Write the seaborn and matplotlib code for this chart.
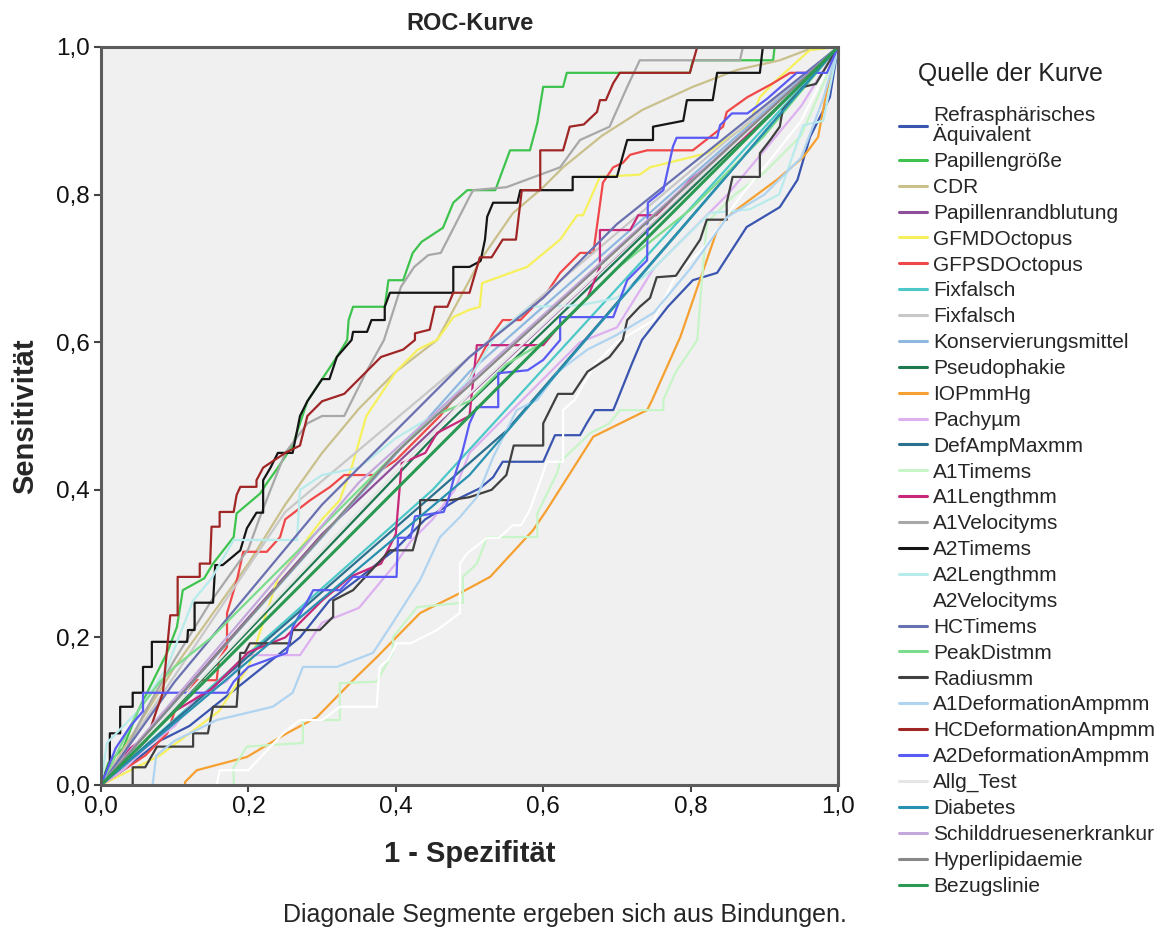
import matplotlib
matplotlib.use("Agg")
import matplotlib.pyplot as plt
from matplotlib.lines import Line2D
import pandas as pd
import seaborn as sns

# ROC curve vertices (1 - specificity, sensitivity) for each test variable
refraspharisch = [(0, 0), (0.03, 0.02), (0.08, 0.06), (0.12, 0.08), (0.17, 0.12), (0.22, 0.16),
                  (0.27, 0.2), (0.31, 0.25), (0.35, 0.28), (0.4, 0.32), (0.44, 0.36), (0.487, 0.389),
                  (0.514, 0.402), (0.532, 0.417), (0.545, 0.438), (0.6, 0.438), (0.616, 0.474),
                  (0.65, 0.474), (0.659, 0.49), (0.67, 0.508), (0.695, 0.508), (0.70, 0.52),
                  (0.72, 0.57), (0.734, 0.603), (0.769, 0.648), (0.803, 0.684), (0.836, 0.694),
                  (0.876, 0.756), (0.921, 0.783), (0.945, 0.82), (0.962, 0.878), (0.989, 0.932), (1, 1)]
papillengroesse = [(0, 0), (0.01, 0.03), (0.03, 0.05), (0.05, 0.1), (0.071, 0.142), (0.09, 0.18),
                   (0.103, 0.214), (0.111, 0.264), (0.14, 0.28), (0.152, 0.30), (0.18, 0.336),
                   (0.184, 0.368), (0.216, 0.395), (0.225, 0.409), (0.24, 0.43), (0.26, 0.46),
                   (0.28, 0.52), (0.30, 0.55), (0.32, 0.58), (0.334, 0.603), (0.336, 0.63),
                   (0.342, 0.648), (0.385, 0.648), (0.39, 0.684), (0.41, 0.684), (0.423, 0.721),
                   (0.435, 0.736), (0.464, 0.755), (0.478, 0.789), (0.497, 0.806), (0.535, 0.806),
                   (0.555, 0.86), (0.582, 0.86), (0.592, 0.897), (0.6, 0.946), (0.627, 0.946),
                   (0.632, 0.965), (0.799, 0.965), (0.803, 0.982), (0.912, 0.982), (0.914, 1.0), (1, 1)]
cdr = [(0, 0), (0.05, 0.08), (0.1, 0.16), (0.15, 0.23), (0.2, 0.3), (0.25, 0.38), (0.3, 0.45),
       (0.35, 0.51), (0.4, 0.56), (0.456, 0.603), (0.5, 0.684), (0.514, 0.71), (0.559, 0.775),
       (0.6, 0.81), (0.627, 0.837), (0.68, 0.88), (0.735, 0.915), (0.803, 0.946), (0.863, 0.969),
       (0.921, 0.982), (0.958, 0.996), (1, 1)]
papillenrandblutung = [(0, 0), (0.3, 0.34), (1, 1)]
gfmd_octopus = [(0, 0), (0.04, 0.02), (0.08, 0.04), (0.12, 0.07), (0.16, 0.1), (0.2, 0.16),
                (0.22, 0.22), (0.24, 0.28), (0.27, 0.32), (0.3, 0.36), (0.324, 0.386), (0.34, 0.43),
                (0.36, 0.5), (0.38, 0.53), (0.4, 0.56), (0.43, 0.59), (0.456, 0.603), (0.478, 0.634),
                (0.5, 0.644), (0.514, 0.648), (0.517, 0.68), (0.578, 0.702), (0.623, 0.739),
                (0.646, 0.772), (0.654, 0.772), (0.677, 0.824), (0.731, 0.827), (0.745, 0.837),
                (0.822, 0.856), (0.88, 0.897), (0.894, 0.932), (0.912, 0.951), (0.962, 0.996), (1, 1)]
gfpsd_octopus = [(0, 0), (0.03, 0.02), (0.06, 0.04), (0.09, 0.07), (0.1, 0.1), (0.13, 0.142),
                 (0.157, 0.142), (0.16, 0.17), (0.171, 0.187), (0.171, 0.233), (0.185, 0.28),
                 (0.193, 0.316), (0.225, 0.316), (0.243, 0.336), (0.25, 0.36), (0.284, 0.386),
                 (0.311, 0.404), (0.33, 0.42), (0.37, 0.42), (0.4, 0.44), (0.43, 0.47), (0.46, 0.5),
                 (0.5, 0.55), (0.52, 0.59), (0.532, 0.612), (0.545, 0.63), (0.569, 0.63),
                 (0.605, 0.667), (0.623, 0.694), (0.65, 0.721), (0.668, 0.721), (0.681, 0.816),
                 (0.695, 0.837), (0.708, 0.843), (0.718, 0.854), (0.741, 0.86), (0.803, 0.86),
                 (0.844, 0.892), (0.849, 0.912), (0.877, 0.932), (0.912, 0.951), (0.935, 0.965),
                 (0.966, 0.965), (0.99, 0.99), (1, 1)]
fixfalsch_a = [(0, 0), (0.45, 0.4), (1, 1)]
fixfalsch_b = [(0, 0), (0.25, 0.37), (1, 1)]
konservierungsmittel = [(0, 0), (0.5, 0.56), (1, 1)]
pseudophakie = [(0, 0), (0.45, 0.47), (1, 1)]
iop_mmhg = [(0.114, 0), (0.114, 0.004), (0.13, 0.02), (0.198, 0.038), (0.252, 0.07), (0.293, 0.092),
            (0.342, 0.142), (0.374, 0.173), (0.433, 0.233), (0.487, 0.26), (0.528, 0.282),
            (0.586, 0.345), (0.605, 0.373), (0.668, 0.472), (0.741, 0.508), (0.748, 0.522),
            (0.786, 0.607), (0.836, 0.752), (0.844, 0.766), (0.917, 0.82), (0.953, 0.851),
            (0.973, 0.878), (0.985, 0.942), (1, 1)]
pachy_um = [(0, 0), (0.03, 0.02), (0.06, 0.05), (0.1, 0.08), (0.13, 0.12), (0.17, 0.14), (0.2, 0.176),
            (0.27, 0.176), (0.3, 0.22), (0.35, 0.24), (0.4, 0.3), (0.42, 0.33), (0.45, 0.36),
            (0.48, 0.4), (0.5, 0.45), (0.55, 0.5), (0.6, 0.55), (0.65, 0.6), (0.7, 0.62), (0.75, 0.7),
            (0.8, 0.75), (0.85, 0.8), (0.9, 0.86), (0.95, 0.92), (1, 1)]
def_amp_max = [(0, 0), (0.55, 0.48), (1, 1)]
a1_time = [(0.18, 0), (0.18, 0.024), (0.198, 0.052), (0.274, 0.057), (0.274, 0.088), (0.324, 0.088),
           (0.324, 0.138), (0.374, 0.14), (0.396, 0.179), (0.396, 0.2), (0.429, 0.241), (0.491, 0.247),
           (0.491, 0.282), (0.51, 0.3), (0.524, 0.336), (0.592, 0.336), (0.592, 0.368), (0.619, 0.423),
           (0.623, 0.438), (0.64, 0.454), (0.664, 0.477), (0.69, 0.49), (0.704, 0.508), (0.763, 0.508),
           (0.763, 0.522), (0.78, 0.56), (0.809, 0.603), (0.815, 0.68), (0.822, 0.762), (0.86, 0.8),
           (0.9, 0.83), (0.95, 0.88), (0.98, 0.95), (1, 1)]
a1_length = [(0, 0), (0.04, 0.05), (0.08, 0.08), (0.1, 0.1), (0.15, 0.13), (0.2, 0.18), (0.25, 0.2),
             (0.3, 0.25), (0.338, 0.282), (0.38, 0.3), (0.4, 0.34), (0.408, 0.436), (0.44, 0.45),
             (0.456, 0.477), (0.5, 0.5), (0.51, 0.596), (0.6, 0.596), (0.62, 0.62), (0.66, 0.66),
             (0.677, 0.702), (0.677, 0.752), (0.718, 0.752), (0.729, 0.772), (0.754, 0.772),
             (0.8, 0.82), (0.85, 0.86), (0.9, 0.9), (0.95, 0.95), (1, 1)]
a1_velocity = [(0, 0), (0.03, 0.04), (0.06, 0.1), (0.1, 0.17), (0.15, 0.25), (0.2, 0.32), (0.216, 0.364),
               (0.23, 0.4), (0.25, 0.45), (0.28, 0.49), (0.3, 0.5), (0.33, 0.5), (0.36, 0.56),
               (0.384, 0.603), (0.407, 0.675), (0.425, 0.702), (0.444, 0.718), (0.461, 0.721),
               (0.479, 0.756), (0.5, 0.797), (0.505, 0.806), (0.55, 0.81), (0.623, 0.837),
               (0.65, 0.874), (0.69, 0.892), (0.714, 0.946), (0.731, 0.982), (0.867, 0.982),
               (0.871, 1.0), (1, 1)]
a2_time = [(0, 0), (0.012, 0.03), (0.012, 0.07), (0.026, 0.07), (0.026, 0.106), (0.043, 0.106),
           (0.043, 0.125), (0.057, 0.125), (0.057, 0.16), (0.069, 0.16), (0.069, 0.194), (0.117, 0.194),
           (0.118, 0.21), (0.127, 0.21), (0.127, 0.247), (0.152, 0.247), (0.155, 0.298), (0.165, 0.298),
           (0.189, 0.318), (0.198, 0.348), (0.211, 0.369), (0.22, 0.369), (0.22, 0.413), (0.23, 0.43),
           (0.24, 0.45), (0.26, 0.45), (0.27, 0.5), (0.28, 0.52), (0.3, 0.55), (0.31, 0.55),
           (0.32, 0.58), (0.34, 0.603), (0.342, 0.614), (0.361, 0.614), (0.367, 0.63), (0.385, 0.63),
           (0.385, 0.648), (0.392, 0.667), (0.478, 0.667), (0.478, 0.702), (0.5, 0.702), (0.515, 0.71),
           (0.521, 0.739), (0.524, 0.77), (0.532, 0.789), (0.565, 0.789), (0.569, 0.806), (0.64, 0.806),
           (0.64, 0.824), (0.70, 0.824), (0.714, 0.874), (0.749, 0.874), (0.749, 0.892), (0.79, 0.9),
           (0.795, 0.928), (0.83, 0.928), (0.836, 0.965), (0.894, 0.965), (0.898, 1.0), (1, 1)]
a2_length = [(0, 0), (0.008, 0.057), (0.05, 0.1), (0.09, 0.16), (0.125, 0.25), (0.15, 0.28),
             (0.18, 0.332), (0.266, 0.332), (0.27, 0.4), (0.3, 0.42), (0.35, 0.43), (0.4, 0.47),
             (0.45, 0.5), (0.5, 0.55), (0.537, 0.612), (0.582, 0.648), (0.65, 0.65), (0.7, 0.66),
             (0.75, 0.7), (0.826, 0.775), (0.88, 0.78), (0.92, 0.8), (0.953, 0.894), (0.98, 0.9), (1, 1)]
a2_velocity = [(0.157, 0), (0.161, 0.02), (0.2, 0.02), (0.247, 0.07), (0.27, 0.088), (0.3, 0.088),
               (0.324, 0.106), (0.374, 0.106), (0.378, 0.16), (0.39, 0.17), (0.401, 0.192),
               (0.42, 0.192), (0.456, 0.21), (0.487, 0.233), (0.487, 0.3), (0.497, 0.314),
               (0.524, 0.335), (0.54, 0.335), (0.559, 0.352), (0.57, 0.352), (0.582, 0.373),
               (0.6, 0.423), (0.605, 0.438), (0.627, 0.438), (0.627, 0.508), (0.643, 0.522),
               (0.67, 0.57), (0.7, 0.6), (0.75, 0.63), (0.782, 0.694), (0.82, 0.73), (0.867, 0.797),
               (0.908, 0.847), (0.95, 0.9), (1, 1)]
hc_time = [(0, 0), (0.1, 0.14), (0.2, 0.26), (0.3, 0.38), (0.4, 0.48), (0.5, 0.58), (0.6, 0.66),
           (0.7, 0.76), (0.8, 0.84), (0.9, 0.92), (1, 1)]
peak_dist = [(0, 0), (0.03, 0.06), (0.05, 0.1), (0.08, 0.14), (0.1, 0.16), (0.15, 0.2), (0.2, 0.25),
             (0.25, 0.3), (0.3, 0.35), (0.35, 0.4), (0.4, 0.45), (0.45, 0.5), (0.5, 0.52),
             (0.55, 0.57), (0.6, 0.6), (0.7, 0.7), (0.8, 0.78), (0.9, 0.88), (1, 1)]
radius = [(0.043, 0), (0.043, 0.024), (0.06, 0.024), (0.076, 0.052), (0.125, 0.052), (0.125, 0.07),
          (0.145, 0.07), (0.152, 0.106), (0.184, 0.106), (0.189, 0.179), (0.195, 0.179), (0.202, 0.192),
          (0.256, 0.192), (0.26, 0.21), (0.297, 0.21), (0.315, 0.228), (0.315, 0.25), (0.342, 0.264),
          (0.392, 0.318), (0.423, 0.318), (0.433, 0.355), (0.433, 0.386), (0.474, 0.386), (0.5, 0.39),
          (0.53, 0.4), (0.55, 0.42), (0.56, 0.46), (0.6, 0.46), (0.6, 0.49), (0.62, 0.53), (0.64, 0.53),
          (0.66, 0.56), (0.69, 0.58), (0.708, 0.603), (0.714, 0.63), (0.731, 0.648), (0.745, 0.66),
          (0.754, 0.688), (0.78, 0.69), (0.813, 0.739), (0.822, 0.766), (0.849, 0.766), (0.849, 0.789),
          (0.857, 0.824), (0.894, 0.824), (0.894, 0.856), (0.908, 0.874), (0.921, 0.892),
          (0.925, 0.915), (0.953, 0.946), (0.97, 0.95), (1, 1)]
a1_deformation = [(0.07, 0), (0.075, 0.04), (0.1, 0.06), (0.157, 0.088), (0.233, 0.106), (0.26, 0.125),
                  (0.274, 0.16), (0.32, 0.16), (0.369, 0.179), (0.396, 0.22), (0.433, 0.278),
                  (0.46, 0.336), (0.487, 0.363), (0.51, 0.39), (0.532, 0.444), (0.564, 0.508),
                  (0.592, 0.522), (0.62, 0.56), (0.66, 0.59), (0.7, 0.61), (0.75, 0.64), (0.8, 0.7),
                  (0.85, 0.77), (0.9, 0.8), (0.95, 0.85), (0.98, 0.93), (1, 1)]
hc_deformation = [(0, 0), (0.02, 0.02), (0.04, 0.04), (0.062, 0.061), (0.075, 0.1), (0.084, 0.125),
                  (0.094, 0.23), (0.104, 0.23), (0.104, 0.282), (0.134, 0.282), (0.134, 0.3),
                  (0.148, 0.3), (0.15, 0.35), (0.161, 0.35), (0.161, 0.37), (0.18, 0.37),
                  (0.184, 0.393), (0.189, 0.404), (0.211, 0.404), (0.211, 0.413), (0.22, 0.43),
                  (0.25, 0.45), (0.27, 0.46), (0.28, 0.5), (0.3, 0.52), (0.33, 0.53), (0.35, 0.55),
                  (0.38, 0.58), (0.41, 0.59), (0.426, 0.603), (0.426, 0.612), (0.446, 0.617),
                  (0.453, 0.648), (0.47, 0.648), (0.478, 0.667), (0.5, 0.667), (0.514, 0.715),
                  (0.53, 0.715), (0.545, 0.739), (0.563, 0.739), (0.571, 0.806), (0.596, 0.806),
                  (0.596, 0.86), (0.627, 0.86), (0.636, 0.892), (0.655, 0.895), (0.673, 0.912),
                  (0.677, 0.928), (0.685, 0.928), (0.695, 0.951), (0.704, 0.965), (0.799, 0.965),
                  (0.809, 1.0), (1, 1)]
a2_deformation = [(0, 0), (0.02, 0.05), (0.04, 0.08), (0.057, 0.1), (0.057, 0.125), (0.171, 0.125),
                  (0.18, 0.14), (0.2, 0.16), (0.252, 0.179), (0.26, 0.214), (0.275, 0.24),
                  (0.288, 0.264), (0.324, 0.264), (0.342, 0.282), (0.401, 0.282), (0.403, 0.335),
                  (0.42, 0.335), (0.426, 0.364), (0.465, 0.37), (0.471, 0.386), (0.478, 0.413),
                  (0.49, 0.45), (0.5, 0.49), (0.51, 0.512), (0.539, 0.512), (0.539, 0.558),
                  (0.579, 0.562), (0.6, 0.576), (0.623, 0.603), (0.623, 0.634), (0.695, 0.634),
                  (0.714, 0.684), (0.741, 0.711), (0.742, 0.789), (0.763, 0.806), (0.776, 0.865),
                  (0.781, 0.877), (0.836, 0.877), (0.84, 0.894), (0.856, 0.91), (0.877, 0.91),
                  (0.904, 0.93), (0.944, 0.965), (0.985, 0.965), (1, 1)]
allg_test = [(0, 0), (0.5, 0.53), (1, 1)]
diabetes = [(0, 0), (0.5, 0.42), (1, 1)]
schilddruese = [(0, 0), (0.35, 0.41), (1, 1)]
hyperlipidaemie = [(0, 0), (0.4, 0.45), (1, 1)]
bezugslinie = [(0, 0), (1, 1)]

# Legend labels, curve data and line colours, in drawing order
labels = ["Refrasphärisches\nÄquivalent", "Papillengröße", "CDR", "Papillenrandblutung",
          "GFMDOctopus", "GFPSDOctopus", "Fixfalsch", "Fixfalsch", "Konservierungsmittel",
          "Pseudophakie", "IOPmmHg", "Pachyµm", "DefAmpMaxmm", "A1Timems", "A1Lengthmm",
          "A1Velocityms", "A2Timems", "A2Lengthmm", "A2Velocityms", "HCTimems", "PeakDistmm",
          "Radiusmm", "A1DeformationAmpmm", "HCDeformationAmpmm", "A2DeformationAmpmm",
          "Allg_Test", "Diabetes", "Schilddruesenerkrankur", "Hyperlipidaemie", "Bezugslinie"]
curves = [refraspharisch, papillengroesse, cdr, papillenrandblutung, gfmd_octopus, gfpsd_octopus,
          fixfalsch_a, fixfalsch_b, konservierungsmittel, pseudophakie, iop_mmhg, pachy_um,
          def_amp_max, a1_time, a1_length, a1_velocity, a2_time, a2_length, a2_velocity, hc_time,
          peak_dist, radius, a1_deformation, hc_deformation, a2_deformation, allg_test, diabetes,
          schilddruese, hyperlipidaemie, bezugslinie]
colors = ["#3A55B0", "#3EC44E", "#C9C08C", "#8E4E9A", "#F6F05C", "#F04848", "#4CC8C8", "#C8C8C8",
          "#8EB8E0", "#1E7850", "#F5A030", "#DDB0F0", "#2C7090", "#C8F5C8", "#C8287A", "#A8A8A8",
          "#151515", "#B8EBEB", "#FFFFFF", "#6870B0", "#7CDC8C", "#404040", "#B0D4F0", "#A02626",
          "#5A5AF5", "#E6E6E6", "#2890B0", "#C4A8DC", "#888888", "#2A9A52"]

rows = []
for i, pts in enumerate(curves):
    for k, (fx, ty) in enumerate(pts):
        rows.append({"kurve": i, "schritt": k, "fpr": fx, "tpr": ty})
df = pd.DataFrame(rows)
palette = {i: c for i, c in enumerate(colors)}

sns.set_style("white")
plt.rcParams["font.family"] = ["Liberation Sans", "DejaVu Sans"]

fig = plt.figure(figsize=(11.63, 9.32), dpi=100)
ax = fig.add_axes([101 / 1163, 1 - 785 / 932, 737 / 1163, 738 / 932])
ax.set_facecolor("#F0F0F0")

ref = len(curves) - 1
sns.lineplot(data=df[df.kurve != ref], x="fpr", y="tpr", hue="kurve", palette=palette,
             hue_order=list(range(ref)), sort=False, estimator=None, units="kurve",
             legend=False, linewidth=1.6, ax=ax)
sns.lineplot(data=df[df.kurve == ref], x="fpr", y="tpr", color=colors[ref], sort=False,
             estimator=None, legend=False, linewidth=2.2, ax=ax)

ax.set_xlim(0, 1)
ax.set_ylim(0, 1)
ticks = [0, 0.2, 0.4, 0.6, 0.8, 1.0]
tick_labels = ["0,0", "0,2", "0,4", "0,6", "0,8", "1,0"]
ax.set_xticks(ticks)
ax.set_xticklabels(tick_labels)
ax.set_yticks(ticks)
ax.set_yticklabels(tick_labels)
ax.tick_params(axis="both", direction="out", length=5, width=1.5, color="#444444",
               labelsize=17.5, pad=3, labelcolor="#111111")
ax.tick_params(axis="x", bottom=True)
ax.tick_params(axis="y", left=True)
for s in ax.spines.values():
    s.set_color("#5C5C5C")
    s.set_linewidth(2.2)
    s.set_visible(True)

ax.set_title("ROC-Kurve", fontsize=17, fontweight="bold", pad=12)
ax.set_xlabel("1 - Spezifität", fontsize=21, fontweight="bold", labelpad=16)
ax.set_ylabel("Sensitivität", fontsize=21, fontweight="bold", labelpad=12)

# Legend heading, then the entries below it
fig.text(1010 / 1163, 1 - 74 / 932, "Quelle der Kurve", ha="center", va="center",
         fontsize=17.8, color="#222222")
handles = [Line2D([0], [0], color=c, lw=2.2) for c in colors]
leg = fig.legend(handles, labels, loc="upper left", bbox_to_anchor=(899 / 1163, 1 - 106 / 932),
                 frameon=False, fontsize=15, handlelength=1.35, handletextpad=0.3,
                 labelspacing=0.33, borderpad=0, borderaxespad=0)
leg.get_texts()[0].set_linespacing(0.95)

fig.text(565 / 1163, 1 - 915 / 932, "Diagonale Segmente ergeben sich aus Bindungen.",
         ha="center", va="center", fontsize=18)

fig.savefig("out.png", dpi=100)
